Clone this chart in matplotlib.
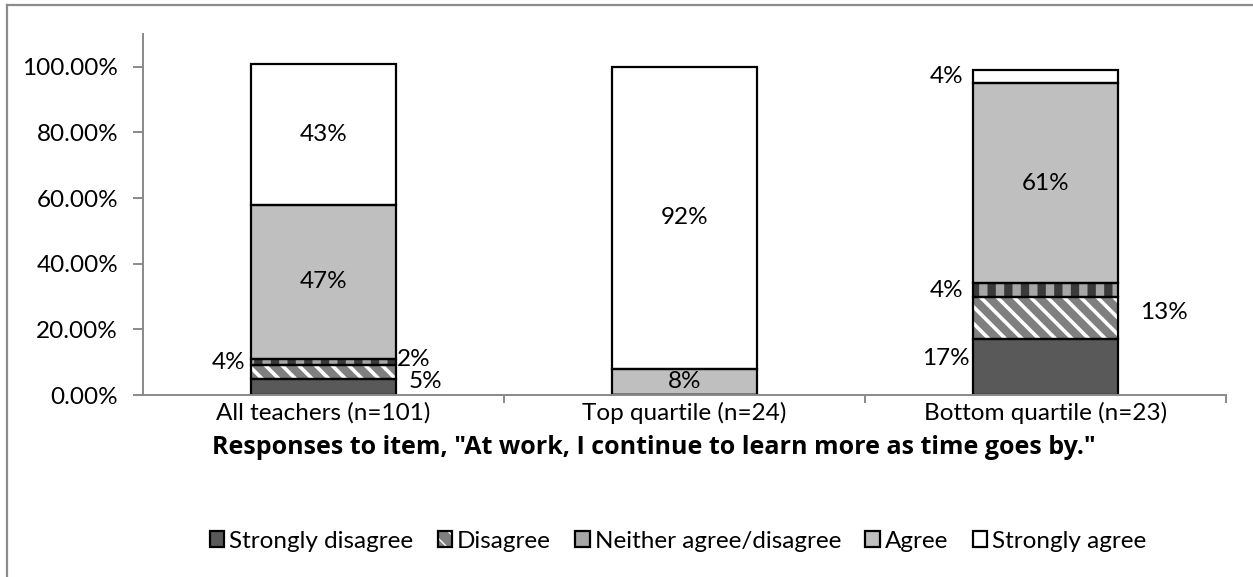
import matplotlib
matplotlib.use("Agg")
import matplotlib.pyplot as plt
from matplotlib.lines import Line2D
from matplotlib.legend_handler import HandlerTuple

plt.rcParams["font.family"] = ["Lato", "DejaVu Sans"]

# ---- data -------------------------------------------------------------
categories = ["All teachers (n=101)", "Top quartile (n=24)", "Bottom quartile (n=23)"]
series_names = ["Strongly disagree", "Disagree", "Neither agree/disagree",
                "Agree", "Strongly agree"]
strongly_disagree = [5, 0, 17]
disagree = [4, 0, 13]
neither = [2, 0, 4]
agree = [47, 8, 61]
strongly_agree = [43, 92, 4]
y_ticks = [0, 20, 40, 60, 80, 100]
x_title = 'Responses to item, "At work, I continue to learn more as time goes by."'

series = [strongly_disagree, disagree, neither, agree, strongly_agree]

# ---- styles -----------------------------------------------------------
styles = [
    dict(face="#595959", hatch=None, hcolor="#595959", hlw=1.0),
    dict(face="#7f7f7f", hatch="\\\\", hcolor="white", hlw=2.6),
    dict(face="#a6a6a6", hatch="|", hcolor="#3a3a3a", hlw=6.0),
    dict(face="#bfbfbf", hatch=None, hcolor="#bfbfbf", hlw=1.0),
    dict(face="white", hatch=None, hcolor="white", hlw=1.0),
]

# where each value label sits: (series index, category index) -> anchor + pixel offset
label_place = {
    (4, 0): ("c", 0, 0), (3, 0): ("c", 0, 0),
    (1, 0): ("l", -23, 10), (2, 0): ("r", 18, 3), (0, 0): ("r", 30, 5),
    (4, 1): ("c", 0, 0), (3, 1): ("c", 0, 0),
    (4, 2): ("l", -27, 0), (3, 2): ("c", 0, 0), (2, 2): ("l", -27, -1),
    (1, 2): ("r", 46, 5), (0, 2): ("l", -27, 9),
}

W, H, DPI = 12.53, 5.77, 100
fig = plt.figure(figsize=(W, H), dpi=DPI)
ax = fig.add_axes([143 / 1253, 182 / 577, (1226 - 143) / 1253, (395 - 34) / 577])

x = list(range(len(categories)))
bar_w = 0.4
FS = 17.5

bottoms = [0] * len(categories)
handles = []
for si, (vals, st) in enumerate(zip(series, styles)):
    with plt.rc_context({"hatch.linewidth": st["hlw"]}):
        fill = ax.bar(x, vals, bar_w, bottom=bottoms, color=st["face"],
                      edgecolor=st["hcolor"], linewidth=0, hatch=st["hatch"],
                      zorder=1)
        for p in fill.patches:
            if hasattr(p, "set_hatch_linewidth"):
                p.set_hatch_linewidth(st["hlw"])
    outline = ax.bar(x, vals, bar_w, bottom=bottoms, fill=False,
                     edgecolor="black", linewidth=1.6, zorder=1.5)
    handles.append((fill.patches[0], outline.patches[0]))

    for ci, v in enumerate(vals):
        if (si, ci) in label_place:
            anchor, dx, dy = label_place[(si, ci)]
            yc = bottoms[ci] + v / 2
            if anchor == "c":
                xa = x[ci]
            elif anchor == "l":
                xa = x[ci] - bar_w / 2
            else:
                xa = x[ci] + bar_w / 2
            ax.annotate(f"{v}%", (xa, yc), xytext=(dx, dy),
                        textcoords="offset pixels", ha="center", va="center",
                        fontsize=FS, color="black")
    bottoms = [b + v for b, v in zip(bottoms, vals)]

# ---- axes -------------------------------------------------------------
ax.set_xlim(-0.5, len(categories) - 0.5)
ax.set_ylim(0, 110)
ax.set_yticks(y_ticks)
ax.set_yticklabels([f"{t:.2f}%" for t in y_ticks])
ax.set_xticks(x)
ax.set_xticklabels(categories)
ax.set_xticks([i + 0.5 for i in x], minor=True)

axis_grey = "#898989"
for s in ("top", "right"):
    ax.spines[s].set_visible(False)
for s in ("left", "bottom"):
    ax.spines[s].set_color(axis_grey)
    ax.spines[s].set_linewidth(1.4)
ax.tick_params(axis="y", direction="out", length=7, width=1.4, color=axis_grey,
               pad=11, labelsize=FS)
ax.tick_params(axis="x", which="major", length=0, pad=5, labelsize=FS)
ax.tick_params(axis="x", which="minor", direction="out", length=6, width=1.4,
               color=axis_grey)
ax.set_xlabel(x_title, fontsize=18, fontweight="bold", labelpad=8,
              family=["Open Sans", "DejaVu Sans"])
ax.xaxis.label.set_x((654 - 143) / (1226 - 143))

leg = fig.legend(handles, series_names, loc="center", ncol=5,
                 bbox_to_anchor=(678 / 1253, 1 - 541 / 577), frameon=False,
                 fontsize=FS, handlelength=0.6, handleheight=0.6,
                 handletextpad=0.2, columnspacing=1.0,
                 handler_map={tuple: HandlerTuple(ndivide=1, pad=0)})

# chart-area frame (left and top edges)
border = "#8c8c8c"
fig.add_artist(Line2D([7 / 1253, 7 / 1253], [-0.05, 1 - 5 / 577],
                      transform=fig.transFigure, color=border, linewidth=1.6))
fig.add_artist(Line2D([7 / 1253, 1.05], [1 - 5 / 577, 1 - 5 / 577],
                      transform=fig.transFigure, color=border, linewidth=1.6))

fig.savefig("out.png", dpi=DPI)
